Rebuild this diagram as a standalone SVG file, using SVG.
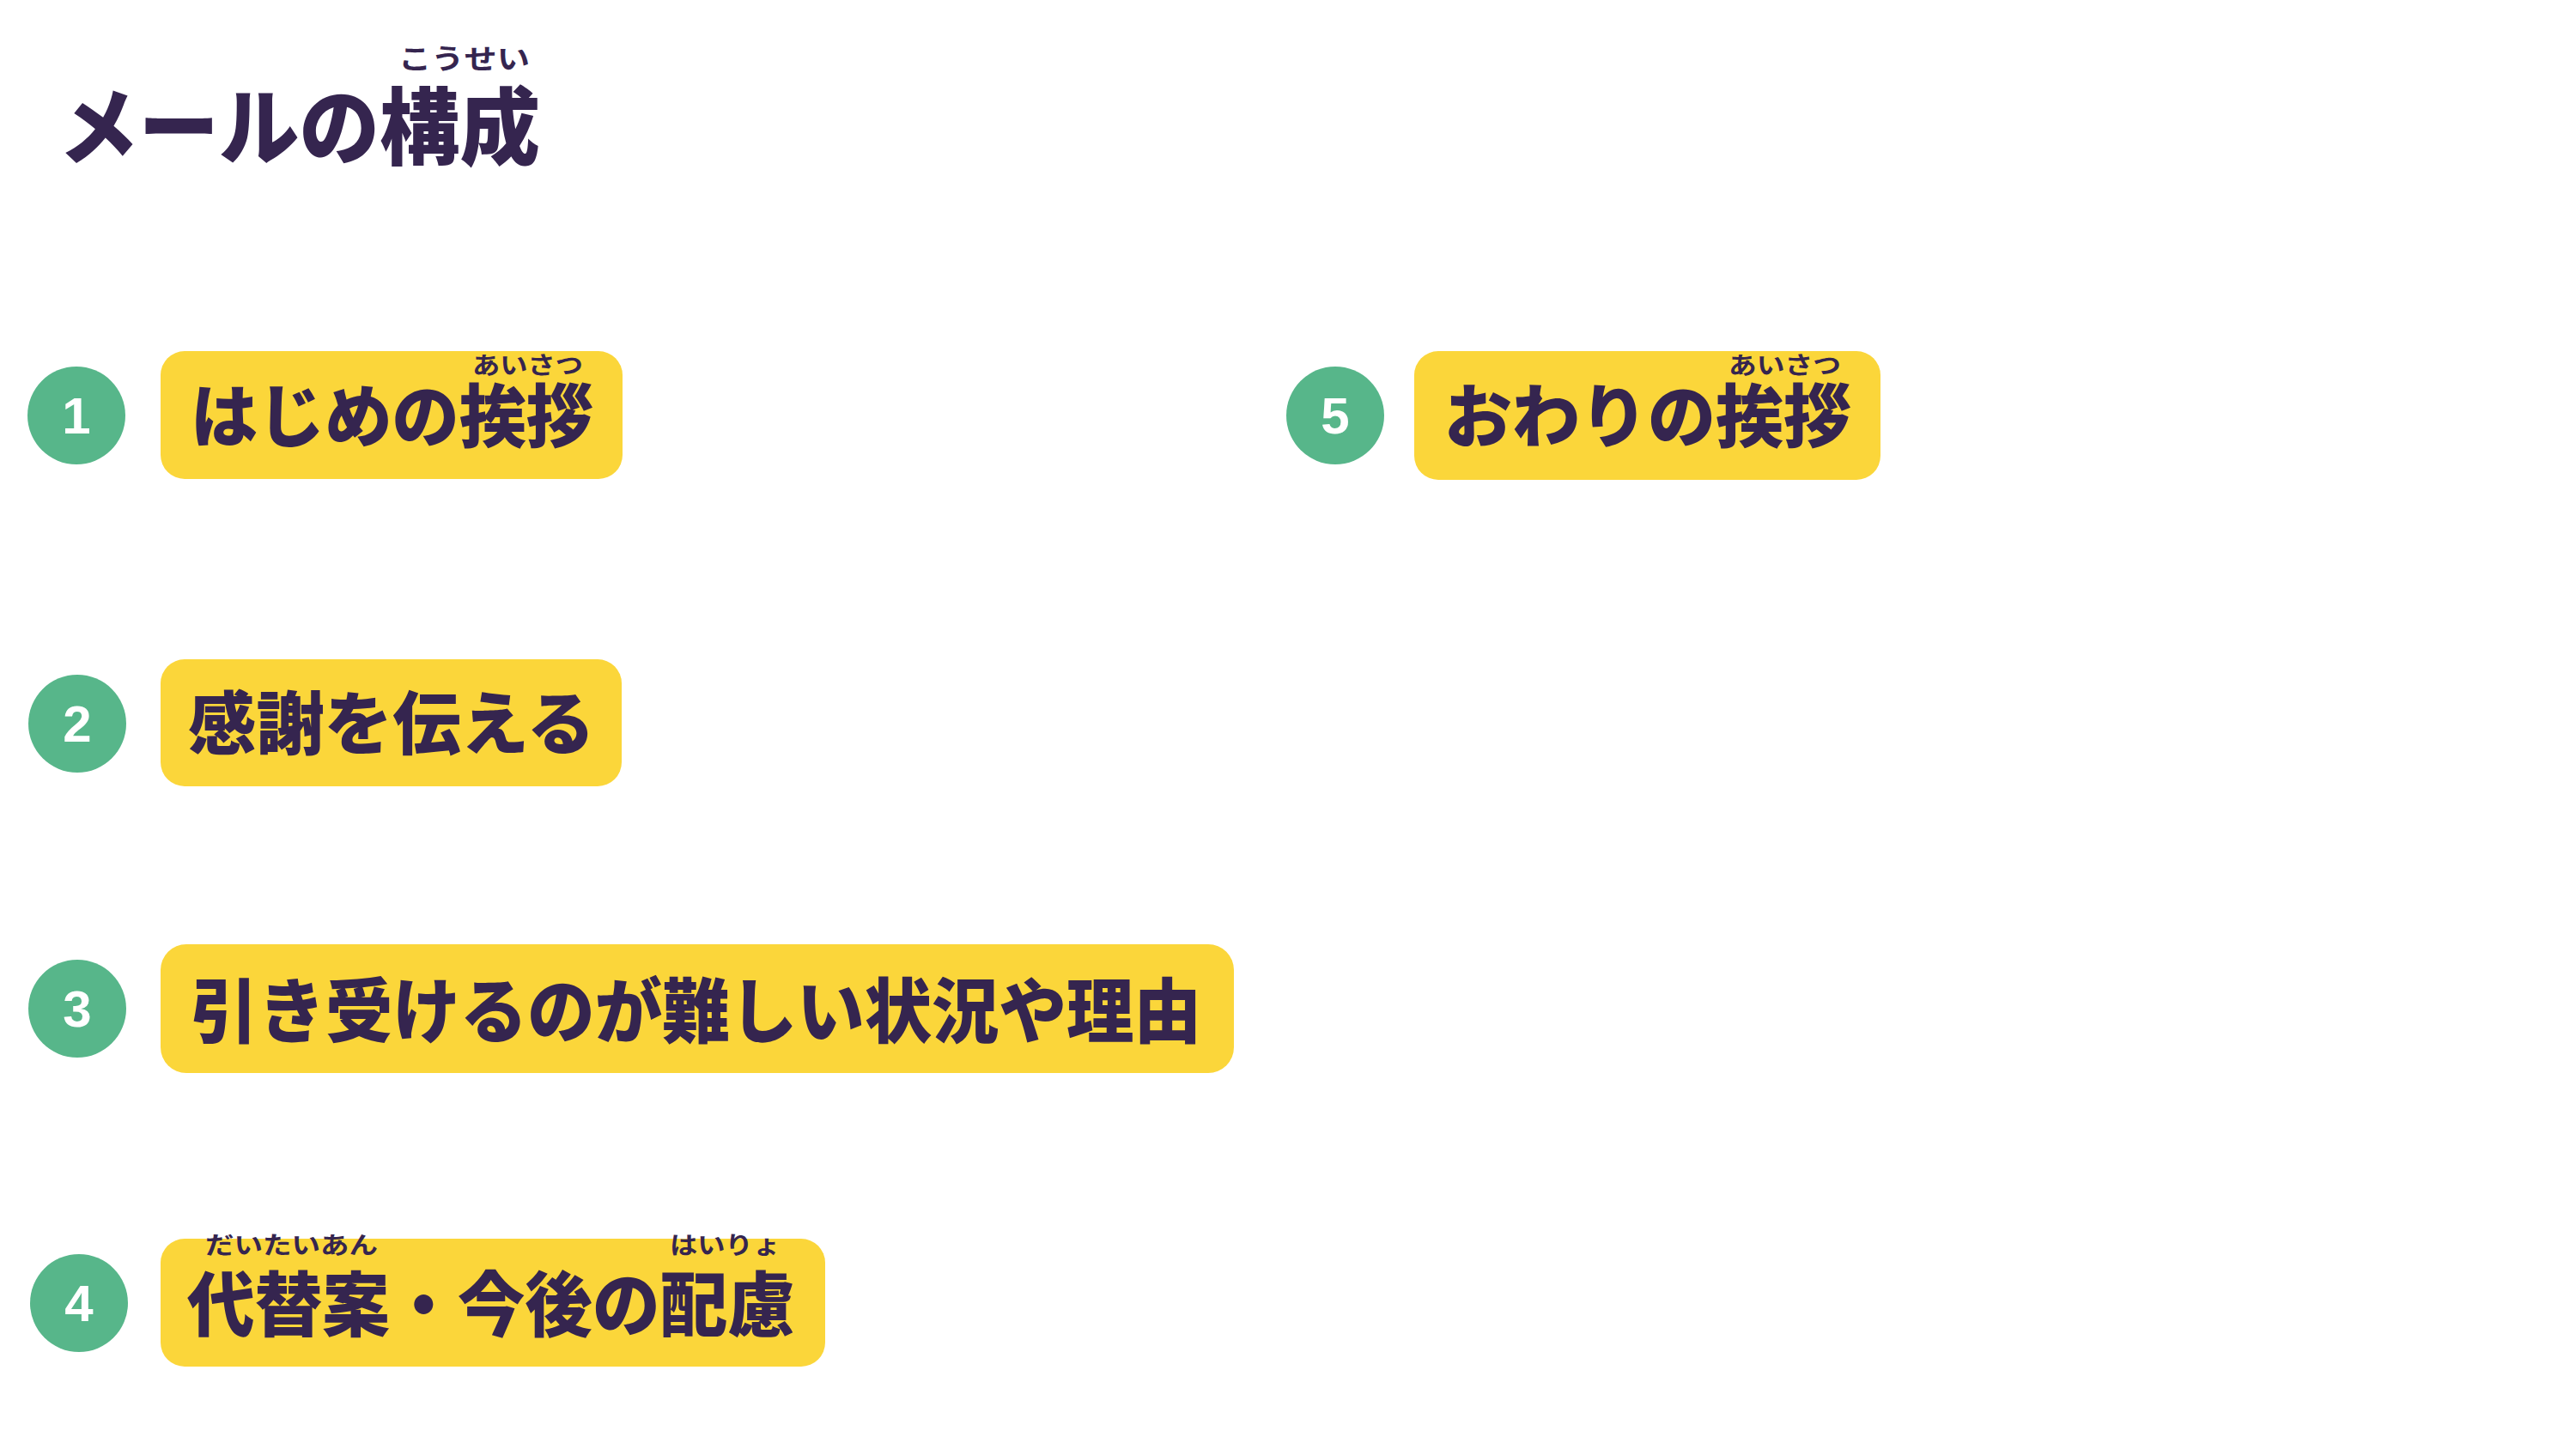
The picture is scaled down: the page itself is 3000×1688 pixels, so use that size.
<svg xmlns="http://www.w3.org/2000/svg" width="3000" height="1688" viewBox="0 0 3000 1688">
<style>
.t{font-family:"Noto Sans CJK JP","Noto Sans",sans-serif;font-weight:900;fill:#35254F}
.r{font-family:"Noto Sans CJK JP","Noto Sans",sans-serif;font-weight:700;fill:#35254F;font-size:28px}
.box{fill:#FBD63A}
.c{fill:#57B68A}
.n{font-family:"Liberation Sans",Arial,sans-serif;font-weight:700;font-size:60px;fill:#fff;text-anchor:middle}
</style>
<rect width="3000" height="1688" fill="#fff"/>
<g id="title">
<text class="r" x="464" y="80" textLength="153" lengthAdjust="spacingAndGlyphs" style="font-size:32px">こうせい</text>
<text class="t" x="68" y="184" font-size="98" textLength="561" lengthAdjust="spacingAndGlyphs">メールの構成</text>
</g>
<g id="n1">
<circle class="c" cx="89" cy="484" r="57"/><text class="n" x="89" y="505">1</text>
<rect class="box" x="187" y="409" width="538" height="149" rx="28"/>
<text class="r" x="550" y="436" textLength="129" lengthAdjust="spacingAndGlyphs">あいさつ</text>
<text class="t" x="222" y="514" font-size="80" textLength="469" lengthAdjust="spacingAndGlyphs">はじめの挨拶</text>
</g>
<g id="n2">
<circle class="c" cx="90" cy="843" r="57"/><text class="n" x="90" y="864">2</text>
<rect class="box" x="187" y="768" width="537" height="148" rx="28"/>
<text class="t" x="219" y="872" font-size="80" textLength="474" lengthAdjust="spacingAndGlyphs">感謝を伝える</text>
</g>
<g id="n3">
<circle class="c" cx="90" cy="1175" r="57"/><text class="n" x="90" y="1196">3</text>
<rect class="box" x="187" y="1100" width="1250" height="150" rx="30"/>
<text class="t" x="222" y="1208" font-size="82" textLength="1177" lengthAdjust="spacingAndGlyphs">引き受けるのが難しい状況や理由</text>
</g>
<g id="n4">
<circle class="c" cx="92" cy="1518" r="57"/><text class="n" x="92" y="1539">4</text>
<rect class="box" x="187" y="1443" width="774" height="149" rx="28"/>
<text class="r" x="239" y="1461" textLength="201" lengthAdjust="spacingAndGlyphs">だいたいあん</text>
<text class="r" x="780" y="1461" textLength="129" lengthAdjust="spacingAndGlyphs">はいりょ</text>
<text class="t" x="218" y="1550" font-size="82" textLength="708" lengthAdjust="spacingAndGlyphs">代替案・今後の配慮</text>
</g>
<g id="n5">
<circle class="c" cx="1555" cy="484" r="57"/><text class="n" x="1555" y="505">5</text>
<rect class="box" x="1647" y="409" width="543" height="150" rx="28"/>
<text class="r" x="2013" y="436" textLength="131" lengthAdjust="spacingAndGlyphs">あいさつ</text>
<text class="t" x="1682" y="514" font-size="80" textLength="474" lengthAdjust="spacingAndGlyphs">おわりの挨拶</text>
</g>
<g id="connectors"/>
</svg>
